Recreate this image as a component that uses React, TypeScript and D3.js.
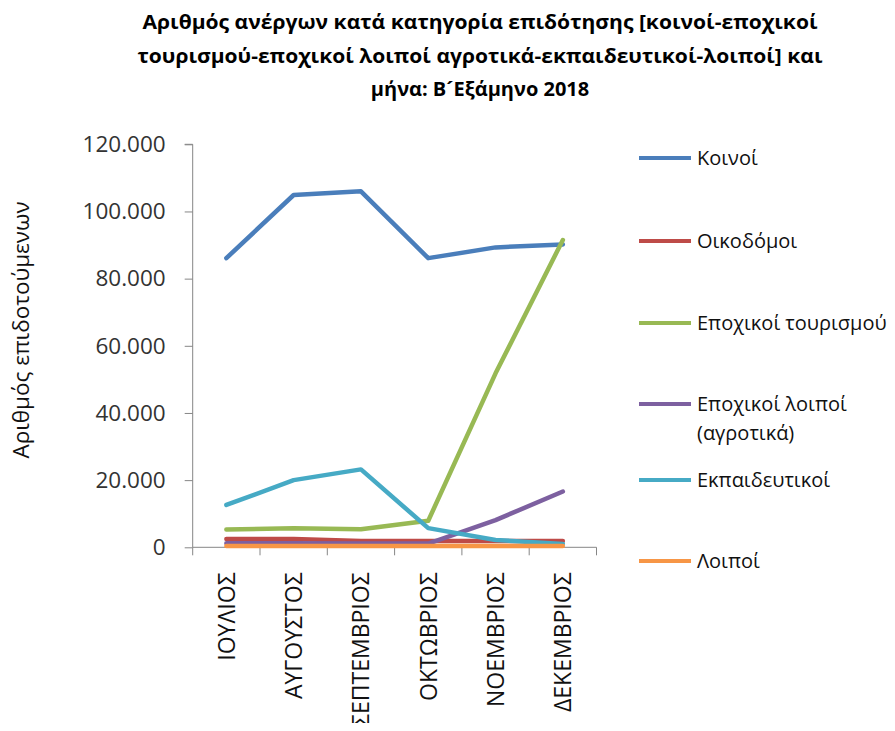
import React, { useEffect, useRef } from "react";
import * as d3 from "d3";

const months = ["ΙΟΥΛΙΟΣ", "ΑΥΓΟΥΣΤΟΣ", "ΣΕΠΤΕΜΒΡΙΟΣ", "ΟΚΤΩΒΡΙΟΣ", "ΝΟΕΜΒΡΙΟΣ", "ΔΕΚΕΜΒΡΙΟΣ"];
const koinoi = [86100, 104900, 106000, 86100, 89300, 90200];
const oikodomoi = [2500, 2500, 1900, 1900, 1900, 1900];
const tourismou = [5300, 5700, 5350, 7900, 51800, 91500];
const agrotika = [1200, 1200, 1100, 1100, 8100, 16600];
const ekpaideutikoi = [12600, 20000, 23200, 5700, 2200, 1000];
const loipoi = [400, 400, 400, 400, 400, 400];
const yTicks = [0, 20000, 40000, 60000, 80000, 100000, 120000];
const seriesNames = ["Κοινοί", "Οικοδόμοι", "Εποχικοί τουρισμού", "Εποχικοί λοιποί (αγροτικά)", "Εκπαιδευτικοί", "Λοιποί"];
const seriesColors = ["#4A7EBB", "#BE4B48", "#98B954", "#7D60A0", "#46AAC5", "#F79646"];
const title = [
  "Αριθμός ανέργων κατά κατηγορία επιδότησης [κοινοί-εποχικοί",
  "τουρισμού-εποχικοί λοιποί αγροτικά-εκπαιδευτικοί-λοιποί] και",
  "μήνα: Β\u00B4Εξάμηνο 2018",
];
const titleWidths = [675, 685, 0];

export default function App() {
  const ref = useRef<SVGSVGElement>(null);
  useEffect(() => {
    const svg = d3.select(ref.current);
    svg.selectAll("*").remove();
    const font = "Open Sans, Noto Sans, sans-serif";
    const left = 192.7, right = 596.5, top = 144.3, bottom = 547.3;
    const x = d3.scaleBand().domain(months).range([left, right]);
    const y = d3.scaleLinear().domain([0, 120000]).range([bottom, top]);
    const data = [koinoi, oikodomoi, tourismou, agrotika, ekpaideutikoi, loipoi];

    // title
    const tt = svg.append("g").selectAll("text").data(title).join("text")
      .attr("x", 480).attr("y", (_d, i) => 29 + i * 33.5)
      .attr("text-anchor", "middle").attr("font-family", font)
      .attr("font-weight", "bold").attr("font-size", 20).attr("fill", "#000")
      .text(d => d);
    tt.filter((_d, i) => titleWidths[i] > 0)
      .attr("textLength", (_d, i) => titleWidths[i]).attr("lengthAdjust", "spacingAndGlyphs");

    // y axis
    const ya = svg.append("g").attr("transform", `translate(${left},0)`)
      .call(d3.axisLeft(y).tickValues(yTicks).tickSize(8).tickPadding(19)
        .tickFormat(d => d3.format(",")(d as number).replace(/,/g, ".")));
    ya.select(".domain").attr("stroke", "#868686").attr("d", `M-8,${top}H0V${bottom}`);
    ya.selectAll(".tick line").attr("stroke", "#868686");
    ya.selectAll(".tick text").attr("font-family", font).attr("font-size", 22.5).attr("fill", "#333");

    // x axis
    const xa = svg.append("g").attr("transform", `translate(0,${bottom})`);
    xa.append("line").attr("x1", left).attr("x2", right).attr("stroke", "#868686");
    const bounds = months.map(m => x(m) as number).concat([right]);
    xa.selectAll("line.t").data(bounds).join("line").attr("class", "t")
      .attr("x1", d => d).attr("x2", d => d).attr("y1", 0).attr("y2", 8).attr("stroke", "#868686");
    xa.selectAll("text").data(months).join("text")
      .attr("transform", m => `translate(${(x(m) as number) + x.bandwidth() / 2 + 8.5},25) rotate(-90)`)
      .attr("text-anchor", "end").attr("font-family", font).attr("font-size", 23).attr("fill", "#111")
      .text(m => m);

    // y title
    svg.append("text").attr("transform", "translate(29,330) rotate(-90)")
      .attr("text-anchor", "middle").attr("font-family", font).attr("font-size", 22.5).attr("fill", "#111")
      .text("Αριθμός επιδοτούμενων");

    // lines
    const line = d3.line<number>()
      .x((_d, i) => (x(months[i]) as number) + x.bandwidth() / 2)
      .y(d => y(d));
    svg.append("g").selectAll("path").data(data).join("path")
      .attr("d", d => line(d))
      .attr("fill", "none").attr("stroke", (_d, i) => seriesColors[i])
      .attr("stroke-width", 4.5).attr("stroke-linejoin", "round").attr("stroke-linecap", "round");

    // legend
    const legY = [158, 241, 323, 404, 480, 561];
    const lg = svg.append("g");
    seriesNames.forEach((name, i) => {
      lg.append("line").attr("x1", 639).attr("x2", 691).attr("y1", legY[i]).attr("y2", legY[i])
        .attr("stroke", seriesColors[i]).attr("stroke-width", 4);
      const parts = i === 3 ? ["Εποχικοί λοιποί", "(αγροτικά)"] : [name];
      parts.forEach((p, j) => {
        lg.append("text").attr("x", 697).attr("y", legY[i] + 7 + j * 29)
          .attr("font-family", font).attr("font-size", 20).attr("fill", "#111").text(p);
      });
    });
  }, []);
  return <svg ref={ref} width={895} height={731} style={{ display: "block", margin: "-8px" }} />;
}
